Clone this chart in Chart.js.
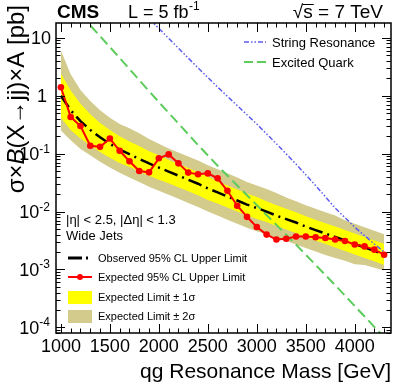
<!DOCTYPE html>
<html>
<head>
<meta charset="utf-8">
<script src="https://cdn.jsdelivr.net/npm/chart.js@4.4.1/dist/chart.umd.min.js"></script>
<style>
  html, body { margin: 0; padding: 0; background: #fff; }
  #wrap { width: 399px; height: 384px; }
</style>
</head>
<body>
<div id="wrap"><canvas id="limits"></canvas></div>
<script>
    "use strict";

    // Resonance mass points [GeV]
    const mass = [1000, 1100, 1200, 1300, 1400, 1500, 1600, 1700, 1800, 1900,
                  2000, 2100, 2200, 2300, 2400, 2500, 2600, 2700, 2800, 2900,
                  3000, 3100, 3200, 3300, 3400, 3500, 3600, 3700, 3800, 3900,
                  4000, 4100, 4200, 4300];

    // red points
    const limitPoints = [1.40, 0.43, 0.30, 0.137, 0.131, 0.182, 0.112, 0.074, 0.050, 0.0475,
                         0.083, 0.097, 0.068, 0.047, 0.044, 0.0456, 0.0374, 0.0228, 0.0126, 0.0081,
                         0.0054, 0.0040, 0.0033, 0.0034, 0.0037, 0.0037, 0.0036, 0.0035, 0.0033, 0.0031,
                         0.0027, 0.0025, 0.0022, 0.0018];

    // black dash-dot curve
    const limitCurve = [1.0, 0.562, 0.363, 0.257, 0.191, 0.148, 0.117, 0.0977, 0.0813, 0.0676,
                        0.0575, 0.0490, 0.0417, 0.0355, 0.0302, 0.0251, 0.0214, 0.0182, 0.0155, 0.0132,
                        0.0115, 0.0100, 0.00851, 0.00741, 0.00646, 0.00550, 0.00479, 0.00417, 0.00363, 0.00316,
                        0.00275, 0.00240, 0.00209, 0.00182];

    const band1Up = [2.40, 1.23, 0.724, 0.479, 0.339, 0.257, 0.200, 0.162, 0.135, 0.110,
                     0.0933, 0.0776, 0.0661, 0.0562, 0.0479, 0.0398, 0.0331, 0.0282, 0.0240, 0.0204,
                     0.0178, 0.0151, 0.0129, 0.0112, 0.00977, 0.00832, 0.00724, 0.00631, 0.00550, 0.00479,
                     0.00417, 0.00363, 0.00316, 0.00275];
    const band1Down = [0.417, 0.257, 0.182, 0.138, 0.107, 0.0851, 0.0692, 0.0589, 0.0490, 0.0417,
                       0.0355, 0.0309, 0.0263, 0.0224, 0.0191, 0.0158, 0.0138, 0.0117, 0.0100, 0.00851,
                       0.00741, 0.00661, 0.00562, 0.00490, 0.00427, 0.00363, 0.00316, 0.00275, 0.00240, 0.00209,
                       0.00182, 0.00158, 0.00138, 0.00120];
    const band2Up = [6.03, 2.34, 1.26, 0.813, 0.562, 0.417, 0.324, 0.275, 0.224, 0.178,
                     0.148, 0.123, 0.105, 0.0891, 0.0759, 0.0631, 0.0537, 0.0457, 0.0389, 0.0324,
                     0.0282, 0.0245, 0.0209, 0.0174, 0.0151, 0.0129, 0.0112, 0.00977, 0.00851, 0.00708,
                     0.00617, 0.00537, 0.00468, 0.00407];
    const band2Down = [0.251, 0.170, 0.120, 0.0933, 0.0724, 0.0575, 0.0468, 0.0389, 0.0324, 0.0269,
                       0.0229, 0.0195, 0.0166, 0.0141, 0.0120, 0.0100, 0.00851, 0.00724, 0.00617, 0.00525,
                       0.00457, 0.00407, 0.00347, 0.00309, 0.00269, 0.00234, 0.00204, 0.00178, 0.00158, 0.00141,
                       0.00123, 0.00120, 0.00107, 0.000955];

    // theory curves
    const stringMass = [1900, 2000, 2200, 2400, 2600, 2800, 3000, 3200, 3400, 3600, 3800, 4000, 4200, 4300];
    const stringXs = [21.4, 14.5, 6.61, 3.02, 1.41, 0.676, 0.324, 0.148, 0.0661, 0.0282, 0.0115, 0.00537, 0.00275, 0.00200];

    const qstarMass = [1200, 1400, 1600, 1800, 2000, 2200, 2400, 2600, 2800, 3000, 3200, 3400, 3600, 3800, 4000, 4200, 4300];
    const qstarXs = [25.1, 10.7, 4.47, 1.86, 0.776, 0.331, 0.141, 0.0617, 0.0282, 0.0129, 0.00589, 0.00269,
                     0.00120, 0.000537, 0.000234, 0.000102, 0.0000676];

    // axis ticks
    const xTickLabels = [1000, 1500, 2000, 2500, 3000, 3500, 4000];
    const yTickExps = [1, 0, -1, -2, -3, -4];

    const FONT = "'Liberation Sans', Arial, Helvetica, sans-serif";
    const KHAKI = "rgb(210,203,140)";
    const BLUE = "#5c5cf0";
    const GREEN = "#5ccc5c";

    function pts(xs, ys) {
        return xs.map(function (x, i) { return {x: x, y: ys[i]}; });
    }

    function sline(ctx, x1, y1, x2, y2) {
        ctx.beginPath();
        ctx.moveTo(x1, y1);
        ctx.lineTo(x2, y2);
        ctx.stroke();
    }

    // text with a superscript tail, left aligned at x
    function supText(ctx, base, sup, x, y, size) {
        ctx.font = size + "px " + FONT;
        ctx.textAlign = "left";
        ctx.fillText(base, x, y);
        let w = ctx.measureText(base).width;
        ctx.font = Math.round(size * 0.66) + "px " + FONT;
        ctx.fillText(sup, x + w + 0.5, y - size * 0.42);
        return w + ctx.measureText(sup).width;
    }

    const rootFrame = {
        id: "rootFrame",
        afterDatasetsDraw(chart) {
            const ctx = chart.ctx, a = chart.chartArea;
            const xs = chart.scales.x, ys = chart.scales.y;
            ctx.save();
            ctx.fillStyle = "#000";
            ctx.strokeStyle = "#000";
            ctx.textBaseline = "alphabetic";

            // frame
            ctx.lineWidth = 1.5;
            ctx.strokeRect(a.left, a.top, a.right - a.left, a.bottom - a.top);

            // x ticks, bottom and top
            ctx.lineWidth = 1;
            for (let m = 1000; m <= xs.max; m += 100) {
                let px = Math.round(xs.getPixelForValue(m)) + 0.5;
                let len = (m % 500 === 0) ? 9 : 4.5;
                sline(ctx, px, a.bottom, px, a.bottom - len);
                sline(ctx, px, a.top, px, a.top + len);
            }
            // y ticks, left and right
            for (let e = -5; e <= 1; e++) {
                for (let k = 1; k <= 9; k++) {
                    let v = k * Math.pow(10, e);
                    if (v < ys.min || v > ys.max) continue;
                    let py = Math.round(ys.getPixelForValue(v)) + 0.5;
                    let len = (k === 1) ? 9 : 4.5;
                    sline(ctx, a.left, py, a.left + len, py);
                    sline(ctx, a.right, py, a.right - len, py);
                }
            }

            // x tick labels
            ctx.font = "18px " + FONT;
            ctx.textAlign = "center";
            xTickLabels.forEach(function (m) {
                ctx.fillText(String(m), xs.getPixelForValue(m), 352);
            });

            // y tick labels
            yTickExps.forEach(function (e) {
                let py = ys.getPixelForValue(Math.pow(10, e)) + 6.5;
                ctx.textAlign = "right";
                if (e === 1) {
                    ctx.font = "18px " + FONT;
                    ctx.fillText("10", 51, py);
                } else if (e === 0) {
                    ctx.font = "18px " + FONT;
                    ctx.fillText("1", 47, py);
                } else {
                    ctx.font = "12px " + FONT;
                    let sup = "-" + (-e);
                    let sw = ctx.measureText(sup).width;
                    ctx.fillText(sup, 50, py - 7.5);
                    ctx.font = "18px " + FONT;
                    ctx.fillText("10", 50 - sw, py);
                }
            });

            // axis titles
            ctx.font = "21px " + FONT;
            ctx.textAlign = "right";
            ctx.fillText("qg Resonance Mass [GeV]", 391, 378);

            ctx.save();
            ctx.translate(24, 5);
            ctx.rotate(-Math.PI / 2);
            let parts = [["σ×", "24px "], ["B", "italic 24px "], ["(X→jj)×A [pb]", "24px "]];
            let total = 0;
            parts.forEach(function (p) { ctx.font = p[1] + FONT; total += ctx.measureText(p[0]).width; });
            let cx = -total;
            ctx.textAlign = "left";
            parts.forEach(function (p) {
                ctx.font = p[1] + FONT;
                ctx.fillText(p[0], cx, 0);
                cx += ctx.measureText(p[0]).width;
            });
            ctx.restore();

            // header
            ctx.textAlign = "left";
            ctx.font = "bold 19px " + FONT;
            ctx.fillText("CMS", 57, 18);
            supText(ctx, "L = 5 fb", "-1", 128, 18, 18);
            ctx.font = "19px " + FONT;
            ctx.textAlign = "right";
            ctx.fillText("√s = 7 TeV", 383, 18);
            let tw = ctx.measureText("√s = 7 TeV").width;
            let rw = ctx.measureText("√").width;
            let sw = ctx.measureText("s").width;
            ctx.lineWidth = 1;
            sline(ctx, 383 - tw + rw - 1, 4.5, 383 - tw + rw + sw + 1, 4.5);

            // theory legend
            ctx.textAlign = "left";
            ctx.font = "13px " + FONT;
            ctx.lineWidth = 1.5;
            ctx.strokeStyle = BLUE;
            ctx.setLineDash([5, 2, 1.5, 2, 1.5, 2]);
            sline(ctx, 244, 42, 266, 42);
            ctx.strokeStyle = GREEN;
            ctx.lineWidth = 2;
            ctx.setLineDash([9, 4]);
            sline(ctx, 244, 62, 266, 62);
            ctx.setLineDash([]);
            ctx.fillText("String Resonance", 272, 47);
            ctx.fillText("Excited Quark", 272, 67);

            // selection text
            ctx.font = "13px " + FONT;
            ctx.fillText("|η| < 2.5, |Δη| < 1.3", 66, 224);
            ctx.fillText("Wide Jets", 66, 240);

            // limit legend
            ctx.font = "11px " + FONT;
            ctx.strokeStyle = "#000";
            ctx.lineWidth = 3;
            ctx.setLineDash([14, 4, 2, 4]);
            sline(ctx, 68, 258, 92, 258);
            ctx.setLineDash([]);
            ctx.fillText("Observed 95% CL Upper Limit", 98, 262);

            ctx.strokeStyle = "#ff0000";
            ctx.lineWidth = 2;
            sline(ctx, 68, 277, 92, 277);
            ctx.fillStyle = "#ff0000";
            ctx.beginPath();
            ctx.arc(80, 277, 3, 0, Math.PI * 2);
            ctx.fill();
            ctx.fillStyle = "#000";
            ctx.fillText("Expected 95% CL Upper Limit", 98, 281);

            ctx.fillStyle = "#ffff00";
            ctx.fillRect(68, 291, 24, 13);
            ctx.fillStyle = KHAKI;
            ctx.fillRect(68, 310, 24, 13);
            ctx.fillStyle = "#000";
            ctx.fillText("Expected Limit ± 1σ", 98, 301);
            ctx.fillText("Expected Limit ± 2σ", 98, 320);

            ctx.restore();
        }
    };

    const ctx1 = document.getElementById("limits").getContext("2d");
    const limitChart = new Chart(ctx1, {
        type: "line",
        data: {
            datasets: [{
                    label: "Expected 95% CL Upper Limit",
                    data: pts(mass, limitPoints),
                    borderColor: "#ff0000",
                    backgroundColor: "#ff0000",
                    borderWidth: 2,
                    pointRadius: 3.3,
                    pointBorderWidth: 0,
                    fill: false,
                    order: 1
                },
                {
                    label: "Observed 95% CL Upper Limit",
                    data: pts(mass, limitCurve),
                    borderColor: "#000000",
                    borderWidth: 2.5,
                    borderDash: [14, 5, 2, 5],
                    pointRadius: 0,
                    fill: false,
                    order: 2
                },
                {
                    label: "String Resonance",
                    data: pts(stringMass, stringXs),
                    borderColor: BLUE,
                    borderWidth: 1.5,
                    borderDash: [5, 2, 1.5, 2, 1.5, 2],
                    pointRadius: 0,
                    fill: false,
                    order: 3
                },
                {
                    label: "Excited Quark",
                    data: pts(qstarMass, qstarXs),
                    borderColor: GREEN,
                    borderWidth: 2,
                    borderDash: [10, 5],
                    pointRadius: 0,
                    fill: false,
                    order: 4
                },
                {
                    label: "Expected Limit ± 1σ",
                    data: pts(mass, band1Up),
                    borderWidth: 0,
                    pointRadius: 0,
                    backgroundColor: "#ffff00",
                    fill: "+1",
                    order: 5
                },
                {
                    label: "1σ low",
                    data: pts(mass, band1Down),
                    borderWidth: 0,
                    pointRadius: 0,
                    fill: false,
                    order: 6
                },
                {
                    label: "Expected Limit ± 2σ",
                    data: pts(mass, band2Up),
                    borderWidth: 0,
                    pointRadius: 0,
                    backgroundColor: KHAKI,
                    fill: "+1",
                    order: 7
                },
                {
                    label: "2σ low",
                    data: pts(mass, band2Down),
                    borderWidth: 0,
                    pointRadius: 0,
                    fill: false,
                    order: 8
                }
            ]
        },
        options: {
            responsive: true,
            maintainAspectRatio: false,
            animation: false,
            layout: {padding: {left: 56, right: 8, top: 23, bottom: 51}},
            plugins: {
                legend: {display: false},
                tooltip: {enabled: false}
            },
            scales: {
                x: {type: "linear", min: 950, max: 4370, display: false},
                y: {type: "logarithmic", min: 0.00008, max: 18, display: false}
            }
        },
        plugins: [rootFrame]
    });
</script>
</body>
</html>
